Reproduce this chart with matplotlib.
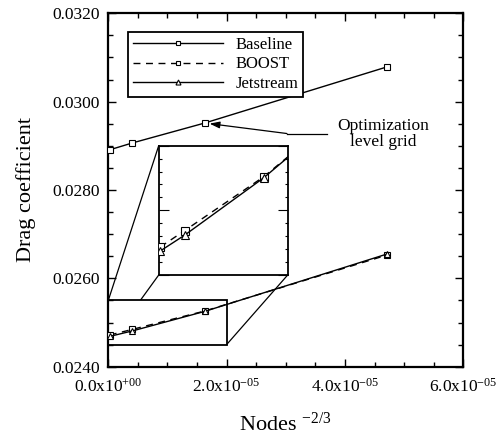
import matplotlib
matplotlib.use("Agg")
import matplotlib.pyplot as plt
from matplotlib.patches import Rectangle, ConnectionPatch
from matplotlib.ticker import MultipleLocator, FuncFormatter

plt.rcParams['font.family'] = ['Liberation Serif', 'DejaVu Serif']
plt.rcParams['mathtext.default'] = 'regular'

# ---- data ----
nodes_x = [2.5e-7, 4.05e-6, 1.63e-5, 4.705e-5]          # Nodes^-2/3
baseline_cd = [0.02891, 0.029064, 0.029516, 0.030784]
boost_cd = [0.024717, 0.024844, 0.025260, 0.026525]
jet_cd = [0.024686, 0.024809, 0.025252, 0.026548]
opt_idx = 2   # optimization level grid
xticks = [0.0, 2.0e-5, 4.0e-5, 6.0e-5]
xtick_labels = ['0.0x10$^{+00}$', '2.0x10$^{-05}$', '4.0x10$^{-05}$', '6.0x10$^{-05}$']
zoom_x = (0.0, 2.0e-5)
zoom_y = (0.0245, 0.0255)

fig = plt.figure(figsize=(4.96, 4.40), dpi=100)
ax = fig.add_axes([0.2183, 0.1666, 0.7157, 0.8032])

lw = 1.0
ms = 4.2
ax.plot(nodes_x, baseline_cd, '-', color='black', lw=lw, marker='s', ms=ms,
        mfc='white', mec='black', mew=0.8, label='Baseline', zorder=3)
ax.plot(nodes_x, boost_cd, color='black', lw=lw, ls=(0, (5, 4)), marker='s', ms=ms,
        mfc='white', mec='black', mew=0.8, label='BOOST', zorder=3)
ax.plot(nodes_x, jet_cd, '-', color='black', lw=lw, marker='^', ms=ms + 0.6,
        mfc='white', mec='black', mew=0.8, label='Jetstream', zorder=3)

ax.set_xlim(0, 6e-5)
ax.set_ylim(0.024, 0.032)
ax.set_xticks(xticks)
ax.set_xticklabels(xtick_labels)
ax.xaxis.set_minor_locator(MultipleLocator(5e-6))
ax.yaxis.set_major_locator(MultipleLocator(0.002))
ax.yaxis.set_minor_locator(MultipleLocator(0.0005))
ax.yaxis.set_major_formatter(FuncFormatter(lambda v, p: f'{v:.4f}'))
ax.tick_params(which='both', direction='in', top=True, right=True, width=1.0)
ax.tick_params(which='major', length=6, labelsize=12.5)
ax.tick_params(axis='x', which='major', pad=8)
ax.tick_params(axis='y', which='major', pad=6)
ax.tick_params(which='minor', length=3.5)
for s in ax.spines.values():
    s.set_linewidth(1.6)

ax.set_xlabel('Nodes $^{-2/3}$', fontsize=16, labelpad=12)
ax.set_ylabel('Drag coefficient', fontsize=16, labelpad=12)

leg = ax.legend(loc='upper left', bbox_to_anchor=(0.0555, 0.947), fontsize=12,
                handlelength=5.4, handletextpad=0.75, labelspacing=0.22,
                borderpad=0.28, borderaxespad=0, markerscale=0.75,
                fancybox=False, edgecolor='black', framealpha=1)
leg.get_frame().set_linewidth(1.3)

# zoom rectangle (white fill hides connector inside)
rect = Rectangle((zoom_x[0], zoom_y[0]), zoom_x[1] - zoom_x[0], zoom_y[1] - zoom_y[0],
                 facecolor='white', edgecolor='black', lw=1.3, zorder=1.5)
ax.add_patch(rect)

# annotation
px, py = nodes_x[opt_idx], baseline_cd[opt_idx]
bend = (3.02e-5, 0.029278)
tail = (3.70e-5, 0.029278)
ax.plot([bend[0], tail[0]], [bend[1], tail[1]], color='black', lw=0.9, zorder=3)
ax.annotate('', xy=(px, py), xytext=bend,
            arrowprops=dict(arrowstyle='-|>,head_length=0.6,head_width=0.2',
                            color='black', lw=0.9, shrinkA=0, shrinkB=3.5), zorder=3)
ax.text(4.65e-5, 0.029278, 'Optimization\nlevel grid', fontsize=12.5, ha='center',
        va='center', linespacing=1.0)

# inset
axins = fig.add_axes([0.320, 0.375, 0.260, 0.294])
axins.plot(nodes_x, boost_cd, color='black', lw=lw, ls=(0, (5, 4)), marker='s', ms=ms + 1,
           mfc='white', mec='black', mew=0.8, zorder=3)
axins.plot(nodes_x, jet_cd, '-', color='black', lw=lw, marker='^', ms=ms + 1.5,
           mfc='white', mec='black', mew=0.8, zorder=3)
axins.set_xlim(*zoom_x)
axins.set_ylim(*zoom_y)
axins.set_xticks([])
axins.yaxis.set_major_locator(MultipleLocator(0.0005))
axins.yaxis.set_minor_locator(MultipleLocator(0.0001))
axins.tick_params(axis='y', which='both', direction='in', left=True, right=True,
                  labelleft=False, width=0.8)
axins.tick_params(axis='y', which='major', length=7)
axins.tick_params(axis='y', which='minor', length=2)
for s in axins.spines.values():
    s.set_linewidth(1.3)

for xyA, xyB in [((zoom_x[0], zoom_y[1]), (0, 1)),
                 ((zoom_x[0], zoom_y[0]), (0, 0)),
                 ((zoom_x[1], zoom_y[0]), (1, 0))]:
    cp = ConnectionPatch(xyA=xyA, coordsA=ax.transData, xyB=xyB, coordsB=axins.transAxes,
                         color='black', lw=0.9, zorder=1)
    cp.set_clip_on(False)
    ax.add_artist(cp)

fig.savefig('out.png', dpi=100)
